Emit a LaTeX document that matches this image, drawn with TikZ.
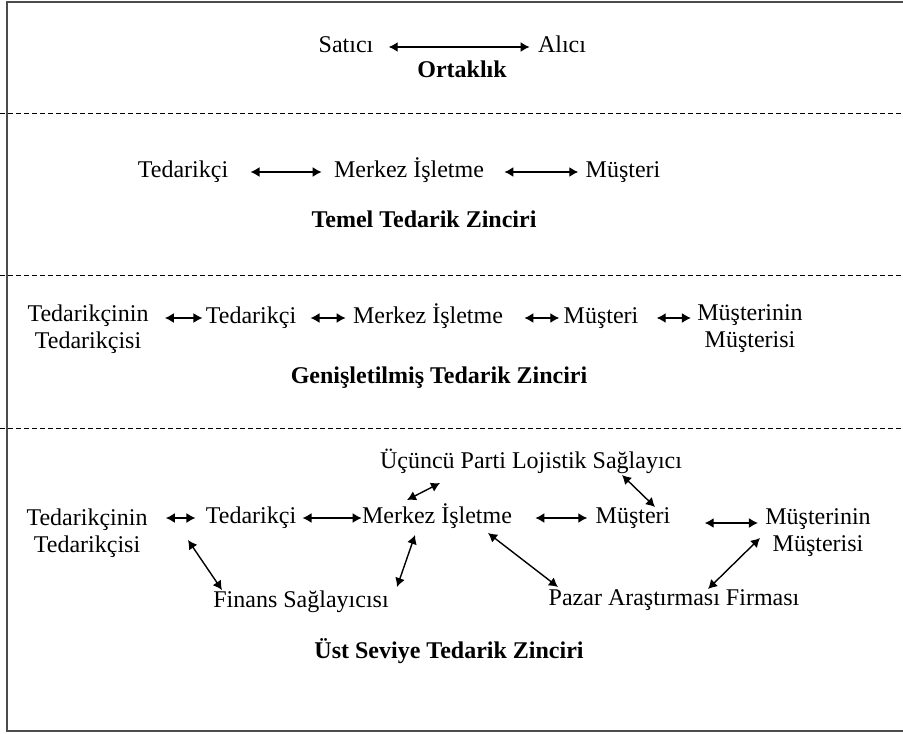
\documentclass[tikz,border=0pt]{standalone}
\usepackage{fontspec}
\setmainfont{Liberation Serif}
\usetikzlibrary{arrows.meta,calc}

\begin{document}
\begin{tikzpicture}[x=0.5pt,y=-0.5pt,
  every node/.style={font=\fontsize{12}{13.5}\selectfont, inner sep=0pt},
  item/.style={text height=1.5ex, text depth=.25ex},
  pair/.style={align=center},
  title/.style={font=\fontsize{12}{13.5}\selectfont\bfseries, text height=1.5ex, text depth=.25ex},
  link/.style={<->, >={Latex[length=4.5pt,width=5pt]}, line width=.7pt},
  sep/.style={dash pattern=on 2.5pt off 1.5pt, line width=.5pt}]
 \useasboundingbox (0,0) rectangle (903,733);
 \draw[black!70, line width=1pt] (905,2) -- (7,2) -- (7,731) -- (905,731);
 \draw[sep] (0,113) -- (903,113);
 \draw[sep] (0,275) -- (903,275);
 \draw[sep] (0,428) -- (903,428);

 % ortaklik
 \node[item] (sat) at (346,47) {Satıcı};
 \node[item] (alc) at (562,47) {Alıcı};
 \node[title] (ort) at (462,72) {Ortaklık};
 \draw[link, shorten <=7.5pt, shorten >=4pt] (sat) -- (alc);

 % temel
 \node[item] (t2) at (183,172) {Tedarikçi};
 \node[item] (m2) at (409,172) {Merkez İşletme};
 \node[item] (mu2) at (623,172) {Müşteri};
 \node[title] (temel) at (424,222) {Temel Tedarik Zinciri};
 \draw[link, shorten <=11pt, shorten >=6pt] (t2) -- (m2);
 \draw[link, shorten <=10pt, shorten >=3.5pt] (m2) -- (mu2);

 % genisletilmis
 \node[pair] (tt3) at (88,329) {Tedarikçinin\\Tedarikçisi};
 \node[item] (t3) at (251,318) {Tedarikçi};
 \node[item] (m3) at (428,318) {Merkez İşletme};
 \node[item] (mu3) at (601,318) {Müşteri};
 \node[pair] (mm3) at (750,329) {Müşterinin\\Müşterisi};
 \node[title] (gen) at (439,378) {Genişletilmiş Tedarik Zinciri};
 \draw[link, shorten <=8pt, shorten >=1.5pt] (tt3.east |- t3) -- (t3);
 \draw[link, shorten <=7pt, shorten >=3.5pt] (t3) -- (m3);
 \draw[link, shorten <=10.5pt, shorten >=2pt] (m3) -- (mu3);
 \draw[link, shorten <=9pt, shorten >=3pt] (mu3) -- (mm3.west |- mu3);

 % ust seviye
 \node[item] (uc) at (531,463) {Üçüncü Parti Lojistik Sağlayıcı};
 \node[pair] (tt4) at (87,533) {Tedarikçinin\\Tedarikçisi};
 \node[item] (t4) at (251,518) {Tedarikçi};
 \node[item] (m4) at (437,518) {Merkez İşletme};
 \node[item] (mu4) at (633,518) {Müşteri};
 \node[pair] (mm4) at (818,533) {Müşterinin\\Müşterisi};
 \node[item] (fin) at (301,602) {Finans Sağlayıcısı};
 \node[item] (paz) at (674,600) {Pazar Araştırması Firması};
 \node[title] (ust) at (449,653) {Üst Seviye Tedarik Zinciri};
 \draw[link, shorten <=9pt, shorten >=5pt] (tt4.east |- t4) -- (t4);
 \draw[link, shorten <=3pt] (t4) -- (m4);
 \draw[link, shorten <=11.5pt, shorten >=4pt] (m4) -- (mu4);
 \draw[link, shorten <=17pt, shorten >=3.5pt] ([yshift=-2.5pt]mu4.east) -- ([yshift=-2.5pt]mu4.east -| mm4.west);
 \draw[link] ($(m4)+(-30,-18)$) -- ($(uc)+(-91,20)$);
 \draw[link] ($(mu4)+(22,-11)$) -- ($(uc)+(91,12)$);
 \draw[link] ($(tt4)+(101,7)$) -- ($(fin)+(-79,-12)$);
 \draw[link] ($(m4)+(-22,17)$) -- ($(fin)+(96,-15)$);
 \draw[link] ($(m4)+(51,15)$) -- ($(paz)+(-116,-13)$);
 \draw[link] ($(mm4)+(-58,5)$) -- ($(paz)+(34,-11)$);
\end{tikzpicture}
\end{document}
